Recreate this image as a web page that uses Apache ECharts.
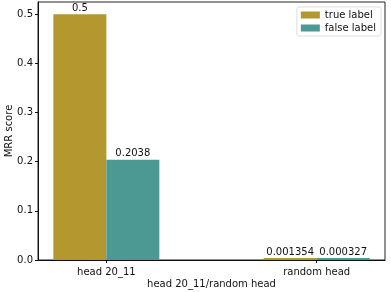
<!DOCTYPE html>
<html><head><meta charset="utf-8">
<script src="https://cdn.jsdelivr.net/npm/echarts@6/dist/echarts.min.js"></script>
<style>html,body{margin:0;padding:0;background:#fff}#c{width:391px;height:292px}</style>
</head><body><div id="c"></div>
<script>
const categories = ['head 20_11', 'random head'];
const trueLabel = [0.5, 0.001354];
const falseLabel = [0.2038, 0.000327];
const trueText = ['0.5', '0.001354'];
const falseText = ['0.2038', '0.000327'];
const yTicks = [0, 0.1, 0.2, 0.3, 0.4, 0.5];

const font = 'DejaVu Sans';
const chart = echarts.init(document.getElementById('c'), null, {renderer: 'canvas'});
function mk(name, vals, texts, color) {
  return {
    name: name, type: 'bar', barWidth: 53, barGap: '0%', barMinHeight: 2,
    itemStyle: {color: color},
    data: vals.map((v, i) => [i, v]),
    label: {show: true, position: 'top', distance: 1, color: '#111', fontFamily: font, fontSize: 10,
      formatter: p => texts[p.dataIndex]}
  };
}
chart.setOption({
  animation: false,
  textStyle: {fontFamily: font},
  grid: {left: 38, right: 6, top: 2, bottom: 32, show: true, borderColor: '#222', borderWidth: 1,
    containLabel: false, outerBoundsMode: 'none'},
  legend: {
    right: 10, top: 7, orient: 'vertical', itemWidth: 19, itemHeight: 7, itemGap: 3,
    padding: [3, 5, 3, 4], borderColor: '#ddd', borderWidth: 1, borderRadius: 2,
    textStyle: {fontFamily: font, fontSize: 10, color: '#111'},
    data: [{name: 'true label', icon: 'rect'}, {name: 'false label', icon: 'rect'}]
  },
  xAxis: {
    type: 'value', min: -0.325, max: 1.325,
    name: 'head 20_11/random head', nameLocation: 'middle', nameGap: 19, nameMoveOverlap: false,
    nameTextStyle: {fontFamily: font, fontSize: 10, color: '#111'},
    splitLine: {show: false},
    axisLine: {show: true, onZero: false, lineStyle: {color: '#111'}},
    axisTick: {show: true, customValues: [0, 1], length: 3, lineStyle: {color: '#111'}},
    axisLabel: {customValues: [0, 1], formatter: v => categories[Math.round(v)], margin: 7,
      fontFamily: font, fontSize: 10, color: '#111'}
  },
  yAxis: {
    type: 'value', min: 0, max: 0.525,
    name: 'MRR score', nameLocation: 'middle', nameGap: 24, nameMoveOverlap: false,
    nameTextStyle: {fontFamily: font, fontSize: 10, color: '#111'},
    splitLine: {show: false},
    axisLine: {show: true, onZero: false, lineStyle: {color: '#111'}},
    axisTick: {show: true, customValues: yTicks, length: 3, lineStyle: {color: '#111'}},
    axisLabel: {customValues: yTicks, formatter: v => v.toFixed(1), margin: 5,
      fontFamily: font, fontSize: 10, color: '#111'}
  },
  series: [
    mk('true label', trueLabel, trueText, '#b3972f'),
    mk('false label', falseLabel, falseText, '#4c9993')
  ]
});
</script></body></html>
